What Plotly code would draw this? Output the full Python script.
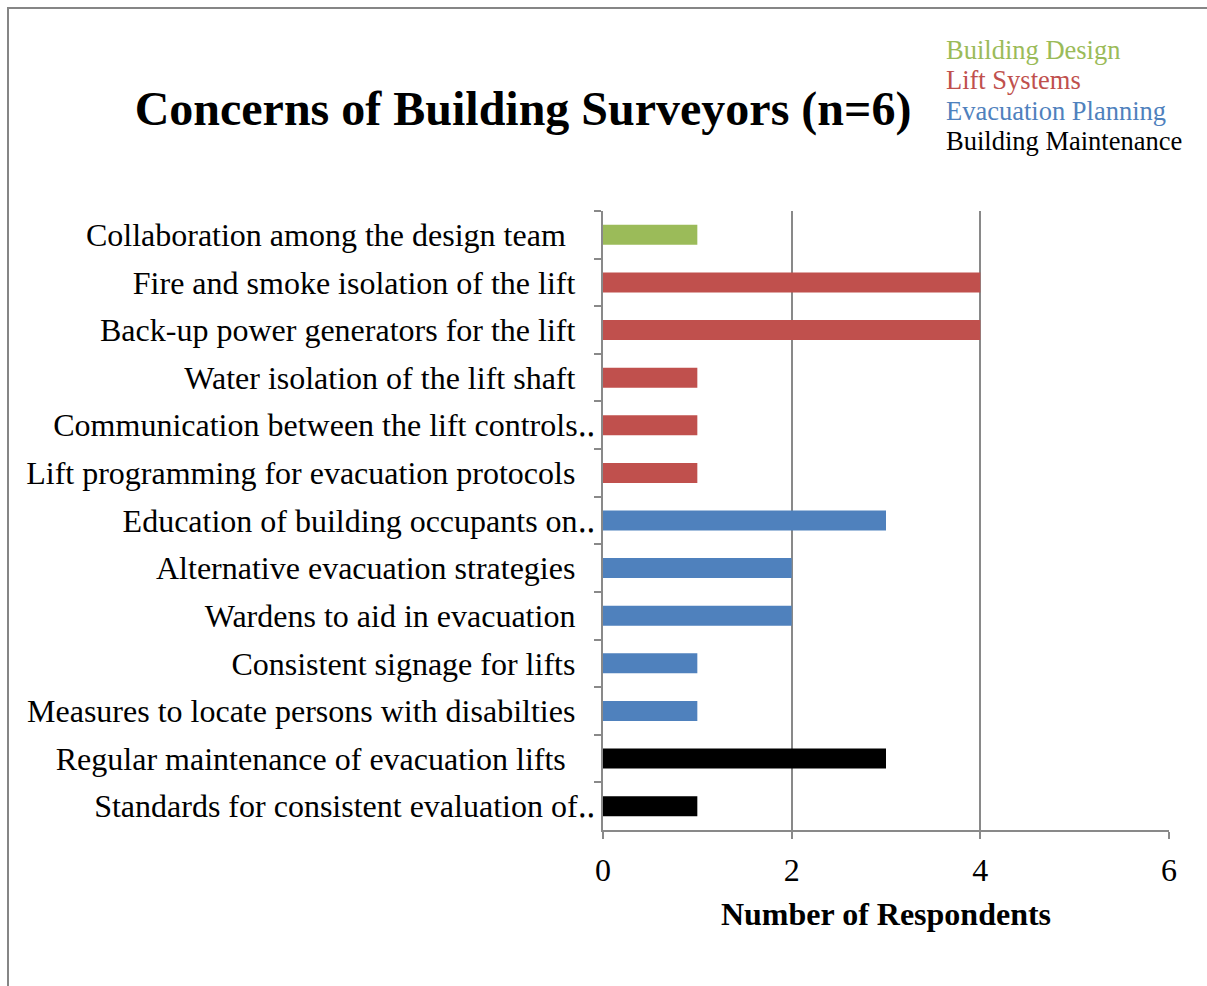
import plotly.graph_objects as go

# Survey responses: concern, group, number of respondents (top to bottom)
concerns = [
    "Collaboration among the design team",
    "Fire and smoke isolation of the lift",
    "Back-up power generators for the lift",
    "Water isolation of the lift shaft",
    "Communication between the lift controls‥",
    "Lift programming for evacuation protocols",
    "Education of building occupants on‥",
    "Alternative evacuation strategies",
    "Wardens to aid in evacuation",
    "Consistent signage for lifts",
    "Measures to locate persons with disabilties",
    "Regular maintenance of evacuation lifts",
    "Standards for consistent evaluation of‥",
]
groups = [
    "Building Design",
    "Lift Systems", "Lift Systems", "Lift Systems", "Lift Systems", "Lift Systems",
    "Evacuation Planning", "Evacuation Planning", "Evacuation Planning",
    "Evacuation Planning", "Evacuation Planning",
    "Building Maintenance", "Building Maintenance",
]
respondents = [1, 4, 4, 1, 1, 1, 3, 2, 2, 1, 1, 3, 1]

group_names = ["Building Design", "Lift Systems", "Evacuation Planning", "Building Maintenance"]
group_colors = {
    "Building Design": "#9BBB59",
    "Lift Systems": "#C0504D",
    "Evacuation Planning": "#4F81BD",
    "Building Maintenance": "#000000",
}

# Label padding: truncated labels run right up to the tick marks
NB, THIN = "\u00a0", "\u2009"
pad = {
    "Collaboration among the design team": NB * 2 + THIN * 2,
    "Regular maintenance of evacuation lifts": NB * 2 + THIN * 2,
}
def padded(label):
    if label.endswith("‥"):
        return label
    return label + pad.get(label, THIN * 3)

labels = [padded(c) for c in concerns]

W, H = 1207, 986
ML, MR, MT, MB = 603, 38, 211, 156
PW, PH = W - ML - MR, H - MT - MB

def px_x(p):
    return (p - ML) / PW

def px_y(p):
    return (H - MB - p) / PH

SERIF = "Liberation Serif, Times New Roman, serif"
AXIS_GRAY = "#898989"

fig = go.Figure()
for g in group_names:
    ys = [l for l, gg in zip(labels, groups) if gg == g]
    xs = [v for v, gg in zip(respondents, groups) if gg == g]
    fig.add_trace(go.Bar(
        x=xs, y=ys, orientation="h", name=g,
        marker=dict(color=group_colors[g], line=dict(width=0)),
        width=0.42, showlegend=False,
    ))

# Coloured group key at the top right
for i, g in enumerate(group_names):
    fig.add_annotation(
        x=px_x(944), y=px_y(50 + i * 30.3), xref="paper", yref="paper",
        text=g, showarrow=False, xanchor="left", yanchor="middle",
        font=dict(family=SERIF, size=26.5, color=group_colors[g]),
    )

# Chart frame
fig.add_shape(
    type="rect", xref="paper", yref="paper",
    x0=px_x(8), x1=px_x(W + 10), y0=px_y(H + 10), y1=px_y(8),
    line=dict(color="#868686", width=2), fillcolor="rgba(0,0,0,0)", layer="below",
)

fig.update_layout(
    width=W, height=H,
    margin=dict(l=ML, r=MR, t=MT, b=MB, autoexpand=False),
    paper_bgcolor="white", plot_bgcolor="white",
    barmode="overlay",
    title=dict(
        text="<b>Concerns of Building Surveyors (n=6)</b>",
        x=523 / W, xref="container", xanchor="center",
        y=1 - 108 / H, yref="container", yanchor="middle",
        font=dict(family=SERIF, size=48, color="black"),
    ),
    font=dict(family=SERIF, color="black"),
)

fig.update_xaxes(
    range=[0, 6], tickvals=[0, 2, 4, 6],
    showgrid=True, gridcolor=AXIS_GRAY, gridwidth=1.5,
    showline=True, linecolor=AXIS_GRAY, linewidth=2,
    ticks="outside", ticklen=7, tickcolor=AXIS_GRAY, tickwidth=2,
    tickfont=dict(family=SERIF, size=32, color="black"),
    ticklabelstandoff=4,
    zeroline=False,
    title=dict(text="<b>Number of Respondents</b>", standoff=15,
               font=dict(family=SERIF, size=32, color="black")),
)

fig.update_yaxes(
    type="category", categoryorder="array", categoryarray=labels,
    autorange="reversed",
    showgrid=False, zeroline=False,
    showline=True, linecolor=AXIS_GRAY, linewidth=2,
    ticks="outside", tickson="boundaries", ticklen=7, tickcolor=AXIS_GRAY, tickwidth=2,
    tickfont=dict(family=SERIF, size=32, color="black"),
    ticklabelstandoff=0,
)

fig.write_html("out.html")
